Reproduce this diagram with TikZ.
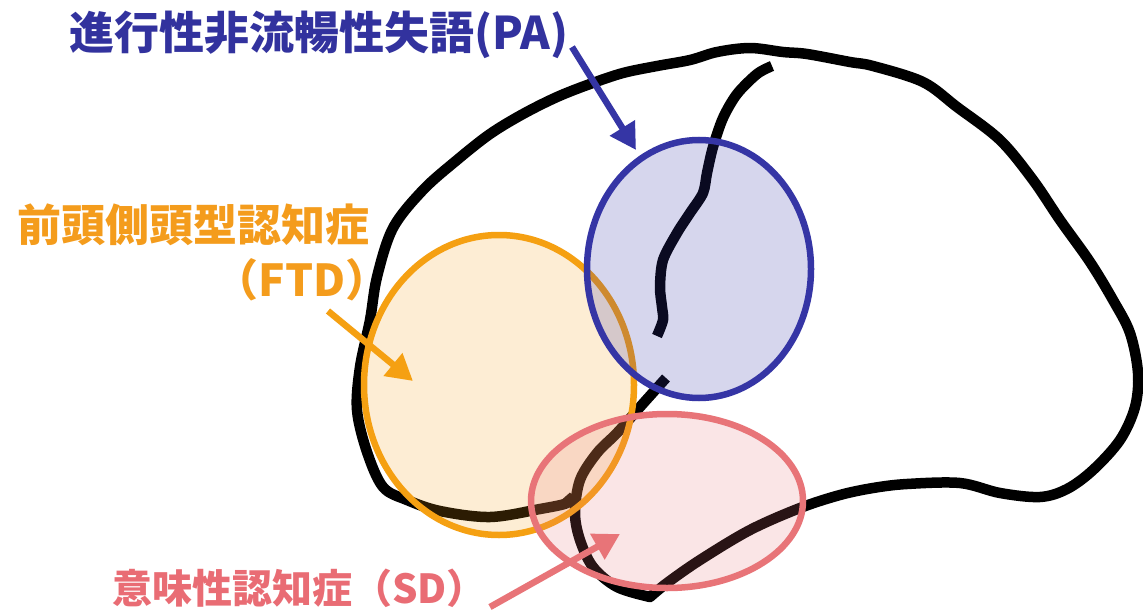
\documentclass[tikz,border=0pt]{standalone}
\usepackage{fontspec}
\newfontfamily\jpfont{Noto Sans CJK JP}[RawFeature=+halt]
\newfontfamily\jpwide{Noto Sans CJK JP}
\usetikzlibrary{arrows.meta}

\definecolor{paBlue}{RGB}{53,53,165}
\definecolor{ftdOrange}{RGB}{245,160,18}
\definecolor{sdPink}{RGB}{232,116,120}
\definecolor{paText}{RGB}{50,50,158}
\definecolor{ftdText}{RGB}{244,156,28}
\definecolor{sdText}{RGB}{233,108,116}

\begin{document}
\begin{tikzpicture}[x=1pt,y=-1pt,
  contour/.style={line width=10.5pt, line join=round, line cap=butt},
  region/.style={line width=6.5pt, draw=#1, fill=#1, fill opacity=0.2},
  pointer/.style={line width=6.5pt, draw=#1, -{Triangle[length=26pt,width=28pt]}},
  tag/.style={inner sep=0pt, font=\jpfont\bfseries}]

\fill[white] (0,0) rectangle (1143,610);
\useasboundingbox (0,0) rectangle (1143,610);

% outer contour of the hemisphere, ending in the lateral fissure
\draw[contour] plot[smooth, tension=0.55] coordinates {
  (566,496) (567,503) (540,509) (490,517) (440,511) (407,500) (383,487)
  (367,452) (357,410) (360,367) (370,320) (377,277) (393,228) (423,190)
  (457,160) (490,134) (523,114) (557,97) (590,84) (623,73) (657,66)
  (690,60) (717,52) (750,48) (783,52) (807,54) (850,62) (873,66)
  (923,82) (957,107) (1000,140) (1033,180) (1060,220) (1090,262)
  (1113,300) (1130,333) (1138,373) (1135,407) (1120,440) (1093,470)
  (1067,489) (1040,497) (1000,493) (960,483) (907,484) (873,488)
  (840,495) (800,508) (750,530) (700,560) (667,583) (650,597)}
  -- plot[smooth, tension=0.55] coordinates {
  (650,597) (617,587) (593,567) (580,540) (575,513) (580,480)
  (597,453) (617,433) (640,407) (657,388) (666,378)};

% central sulcus
\draw[contour] plot[smooth, tension=0.5] coordinates {
  (772,66) (757,74) (737,94) (723,118) (713,147) (707,173) (703,193)
  (690,213) (677,233) (663,260) (660,287) (662,307) (663,320) (657,336)};

% affected regions
\draw[region=ftdOrange, fill opacity=0.18] (499,385) ellipse [x radius=135pt, y radius=150pt];
\draw[region=paBlue] (699,269) ellipse [x radius=112pt, y radius=129pt];
\draw[region=sdPink, fill opacity=0.18] (667,501) ellipse [x radius=136pt, y radius=87pt];

% labels
\node[tag, text=paText, font=\jpfont\bfseries\fontsize{45}{50}\selectfont, anchor=base west]
  (pa) at (69,50) {進行性非流暢性失語(PA)};
\node[tag, text=ftdText, font=\jpfont\bfseries\fontsize{44}{50}\selectfont, anchor=base east]
  (ftd) at (370,241) {前頭側頭型認知症};
\node[tag, text=ftdText, font=\jpfont\bfseries\fontsize{44}{50}\selectfont, anchor=base east]
  (ftdabbr) at (368,296) {（FTD）};
\node[tag, text=sdText, font=\jpwide\bfseries\fontsize{40}{46}\selectfont, anchor=base west]
  (sd) at (112,603) {意味性認知症（SD）};

% pointers from labels to regions
\coordinate (paFrom) at (572,47);
\coordinate (paTo) at (636,150);
\coordinate (ftdFrom) at (328,311);
\coordinate (ftdTo) at (413,381);
\coordinate (sdFrom) at (490,607);
\coordinate (sdTo) at (620,534);
\draw[pointer=paBlue] (paFrom) -- (paTo);
\draw[pointer=ftdOrange] (ftdFrom) -- (ftdTo);
\draw[pointer=sdPink] (sdFrom) -- (sdTo);
\end{tikzpicture}
\end{document}
